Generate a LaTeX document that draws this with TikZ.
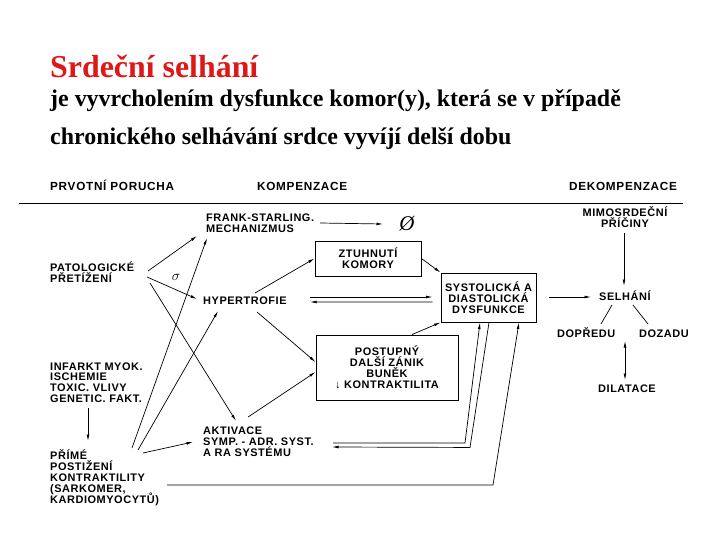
\documentclass[tikz,border=0pt]{standalone}
\usepackage{fontspec}
\setmainfont{Liberation Serif}
\newfontfamily\dfont[LetterSpace=5]{Liberation Sans}
\newfontfamily\hfont[LetterSpace=6]{Liberation Sans}
\usetikzlibrary{arrows.meta,calc}
\definecolor{titlered}{RGB}{222,24,24}
\newcommand\Lblock[1]{\vtop{\lineskiplimit=-20pt\halign{##\hfil\cr#1\crcr}}}
\newcommand\Cblock[1]{\vtop{\lineskiplimit=-20pt\halign{\hfil##\hfil\cr#1\crcr}}}
\begin{document}
\begin{tikzpicture}[x=1bp,y=-1bp,
  lbl/.style={inner sep=0pt, anchor=base west, font=\dfont\bfseries\fontsize{11}{11}\selectfont},
  hdr/.style={inner sep=0pt, anchor=base west, font=\hfont\bfseries\fontsize{11.8}{12}\selectfont},
  boxn/.style={draw, line width=0.9bp, inner sep=0pt, anchor=center, font=\dfont\bfseries\fontsize{11}{11}\selectfont},
  con/.style={line width=0.7bp},
  arr/.style={con, -{Latex[length=6.5bp,width=2.8bp]}},
  titletext/.style={inner sep=0pt, anchor=base west},
]
\useasboundingbox (0,0) rectangle (720,540);
\fill[white] (0,0) rectangle (720,540);

% titles
\node[titletext, text=titlered, font=\bfseries\fontsize{32}{36}\selectfont] (title) at (50,78) {Srdeční selhání};
\node[titletext, font=\bfseries\fontsize{24}{28}\selectfont] (sub1) at (50,107) {je vyvrcholením dysfunkce komor(y), která se v případě};
\node[titletext, font=\bfseries\fontsize{24}{28}\selectfont] (sub2) at (50,145) {chronického selhávání srdce vyvíjí delší dobu};

% headers
\node[hdr] (h1) at (50,191) {PRVOTNÍ PORUCHA};
\node[hdr] (h2) at (257,191) {KOMPENZACE};
\node[hdr] (h3) at (569,191) {DEKOMPENZACE};
\draw[line width=1bp] (19,204) -- (683,204);

% nodes
\node[lbl] (frank) at (206,222) {\Lblock{FRANK-STARLING.\cr MECHANIZMUS}};
\node[inner sep=0pt, font=\itshape\fontsize{21}{21}\selectfont] (empty) at (407,224) {Ø};
\node[boxn, minimum width=106bp, minimum height=35bp] (ztuh) at (368,258.5) {\Cblock{ZTUHNUTÍ\cr KOMORY}};
\node[lbl] (patol) at (50,271.5) {\Lblock{PATOLOGICKÉ\cr PŘETÍŽENÍ}};
\node[inner sep=0pt, font=\fontsize{14}{14}\selectfont] (sigma) at (176,277) {$\sigma$};
\node[lbl] (hyper) at (203,304) {HYPERTROFIE};
\node[boxn, minimum width=95bp, minimum height=49bp] (syst) at (488.5,297.5) {\Cblock{SYSTOLICKÁ A\cr DIASTOLICKÁ\cr DYSFUNKCE}};
\node[lbl, anchor=base] (mimo) at (625,217) {\Cblock{MIMOSRDEČNÍ\cr PŘÍČINY}};
\node[lbl] (selhani) at (599,300) {SELHÁNÍ};
\node[lbl] (dopredu) at (557,337) {DOPŘEDU};
\node[lbl] (dozadu) at (639,337) {DOZADU};
\node[lbl] (dilatace) at (598,392) {DILATACE};
\node[boxn, minimum width=142bp, minimum height=65bp] (post) at (387,367.5) {\Cblock{POSTUPNÝ\cr DALŠÍ ZÁNIK\cr BUNĚK\cr ↓ KONTRAKTILITA}};
\node[lbl] (infarkt) at (50,370) {\Lblock{INFARKT MYOK.\cr ISCHEMIE\cr TOXIC. VLIVY\cr GENETIC. FAKT.}};
\node[lbl] (prime) at (50,459.5) {\Lblock{PŘÍMÉ\cr POSTIŽENÍ\cr KONTRAKTILITY\cr (SARKOMER,\cr KARDIOMYOCYTŮ)}};
\node[lbl] (akt) at (203,434.5) {\Lblock{AKTIVACE\cr SYMP. - ADR. SYST.\cr A RA SYSTÉMU}};
\coordinate (split) at (625,341);

% connectors
\draw[arr] ([shift={(98,-0.5)}]patol.base west) -- ([shift={(-9,14)}]frank.base west);
\draw[arr] ([shift={(97,5.5)}]patol.base west) -- ([shift={(-6,-5)}]hyper.base west);
\draw[arr] ([shift={(100,11.5)}]patol.base west) -- ([shift={(33,-13.5)}]akt.base west);
\draw[arr] ([shift={(82,-11.5)}]prime.base west) -- ([shift={(1,16)}]frank.base west);
\draw[arr] ([shift={(88,-9.5)}]prime.base west) -- ([shift={(15,7)}]hyper.base west);
\draw[arr] ([shift={(93,-6.5)}]prime.base west) -- ([shift={(-10,7.5)}]akt.base west);
\draw[arr] ([shift={(38,38)}]infarkt.base west) -- ([shift={(38,-18.5)}]prime.base west);
\draw[arr] ([shift={(52,-11)}]hyper.base west) -- (ztuh.west);
\draw[arr] ([shift={(54,8)}]hyper.base west) -- ([shift={(0,-5.5)}]post.west);
\draw[arr] ([shift={(45,-17.5)}]akt.base west) -- ([shift={(0,4.5)}]post.west);
\draw[arr] ([shift={(114,1)}]frank.base west) -- ([shift={(-24,0)}]empty.center);
\draw[arr] (ztuh.east) -- (syst.north west);
\draw[arr] ([shift={(107,-7)}]hyper.base west) -- ([shift={(-8,-0.5)}]syst.west);
\draw[arr] ([shift={(-8,4.5)}]syst.west) -- ([shift={(107,-2)}]hyper.base west);
\draw[arr] ([shift={(25,0)}]post.north) -- (syst.south west);
\draw[arr] ([shift={(130,8.5)}]akt.base west) -- ++(132,0) -- ([shift={(-8.5,0)}]syst.south);
\draw[arr] ([shift={(0.5,0)}]syst.south) -- ++(-19,125) -- ([shift={(129,12.5)}]akt.base west);
\draw[arr] ([shift={(117,25.5)}]prime.base west) -- ++(326,0) -- ([shift={(30.5,0)}]syst.south);
\draw[arr] ([shift={(13,-0.5)}]syst.east) -- ([shift={(-8,-3)}]selhani.base west);
\draw[arr] ([shift={(-1,16)}]mimo.base) -- ([shift={(25,-14)}]selhani.base west);
\draw[con] ([shift={(13,5)}]selhani.base west) -- ([shift={(44,-13)}]dopredu.base west);
\draw[con] ([shift={(34,5)}]selhani.base west) -- ([shift={(9,-13)}]dozadu.base west);
\draw[con, {Latex[length=6.5bp,width=2.8bp]}-{Latex[length=6.5bp,width=2.8bp]}] (split) -- ([shift={(27,-12)}]dilatace.base west);
\end{tikzpicture}
\end{document}
